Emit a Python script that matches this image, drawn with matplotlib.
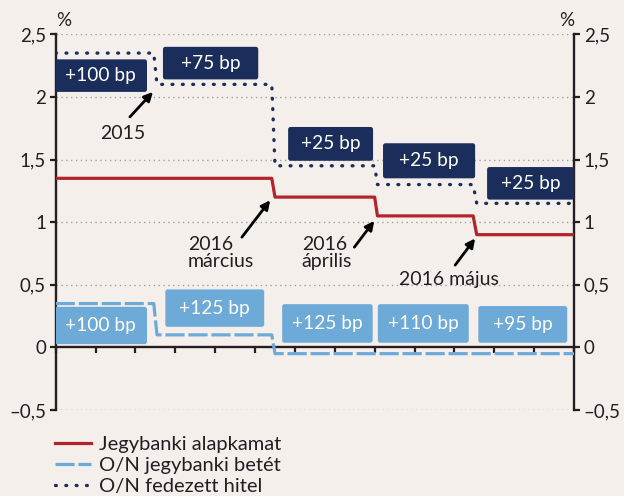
"""
Jegybanki kamatfolyosó: alapkamat, O/N betét és O/N fedezett hitel
"""

import matplotlib
matplotlib.use('Agg')
import matplotlib.pyplot as plt
from matplotlib.patches import FancyBboxPatch

plt.rcParams['font.family'] = ['Lato', 'DejaVu Sans']

# Data (x in tick units, 0..13)
t_base = [0, 5.42, 5.50, 8.00, 8.07, 10.47, 10.56, 13]
base_rate = [1.35, 1.35, 1.20, 1.20, 1.05, 1.05, 0.90, 0.90]

t_corridor = [0, 2.46, 2.54, 5.42, 5.50, 8.00, 8.07, 10.47, 10.56, 13]
on_deposit = [0.35, 0.35, 0.10, 0.10, -0.05, -0.05, -0.05, -0.05, -0.05, -0.05]
on_lending = [2.35, 2.35, 2.10, 2.10, 1.45, 1.45, 1.30, 1.30, 1.15, 1.15]

upper_spread = ['+100 bp', '+75 bp', '+25 bp', '+25 bp', '+25 bp']
lower_spread = ['+100 bp', '+125 bp', '+125 bp', '+110 bp', '+95 bp']

yticks = [-0.5, 0, 0.5, 1, 1.5, 2, 2.5]
ytick_labels = ['–0,5', '0', '0,5', '1', '1,5', '2', '2,5']
series_labels = ['Jegybanki alapkamat', 'O/N jegybanki betét', 'O/N fedezett hitel']

# Colours
BG = '#f5efec'
RED = '#b3242a'
LIGHT_BLUE = '#6eaad8'
NAVY = '#1b2e5b'
TEXT = '#231f20'

# Box layout: (x0, x1, y0, y1) in data coords
upper_boxes = [(-0.07, 2.29, 2.04, 2.30), (2.69, 5.08, 2.14, 2.40),
               (5.83, 7.96, 1.49, 1.76), (8.21, 10.52, 1.35, 1.63),
               (10.82, 13.0, 1.18, 1.44)]
lower_boxes = [(-0.07, 2.29, 0.026, 0.324), (2.75, 5.23, 0.164, 0.463),
               (5.68, 7.95, 0.037, 0.345), (8.08, 10.36, 0.037, 0.345),
               (10.60, 12.83, 0.037, 0.330)]


def add_box(ax, box, color, label):
    x0, x1, y0, y1 = box
    patch = FancyBboxPatch((x0, y0), x1 - x0, y1 - y0,
                           boxstyle='round,pad=0,rounding_size=0.06',
                           mutation_aspect=0.318,
                           facecolor=color, edgecolor='none', zorder=3)
    ax.add_patch(patch)
    ax.text((x0 + x1) / 2, (y0 + y1) / 2, label, ha='center', va='center',
            color='white', fontsize=13.8, zorder=4)


def add_arrow(ax, tail, head):
    ax.annotate('', xy=head, xytext=tail,
                arrowprops=dict(arrowstyle='-|>', color='black', lw=2,
                                mutation_scale=13, shrinkA=0, shrinkB=0),
                zorder=6)


fig = plt.figure(figsize=(6.24, 4.96), dpi=100, facecolor=BG)
ax = fig.add_axes([55.7 / 624, 1 - 410 / 496, (574 - 55.7) / 624, (410 - 34.3) / 496])
ax.set_facecolor(BG)
ax.set_xlim(0, 13)
ax.set_ylim(-0.5, 2.5)

# grid
for y in yticks:
    if y != 0:
        ax.axhline(y, color='#a0a0a0', lw=1, linestyle=(0, (1, 2.5)), zorder=1)

# spines
ax.spines['top'].set_visible(False)
ax.spines['bottom'].set_position(('data', 0))
for side in ['left', 'right', 'bottom']:
    ax.spines[side].set_linewidth(1.7)
    ax.spines[side].set_color(TEXT)
    ax.spines[side].set_zorder(2.5)

ax.set_xticks(range(0, 14))
ax.tick_params(axis='x', direction='out', length=4.5, width=1.6,
               color=TEXT, labelbottom=False)
ax.set_yticks(yticks)
ax.set_yticklabels(ytick_labels)
ax.tick_params(axis='y', direction='out', length=4, width=1.6, color=TEXT,
               left=True, right=True, labelleft=True, labelright=True,
               labelsize=13.5, labelcolor=TEXT, pad=3)

# series
ax.plot(t_base, base_rate, color=RED, lw=2.3, zorder=5, label=series_labels[0])
ax.plot(t_corridor, on_deposit, color=LIGHT_BLUE, lw=2.3, dashes=(6, 1.2),
        zorder=5, label=series_labels[1])
ax.plot(t_corridor, on_lending, color=NAVY, lw=2.4, dashes=(0.25, 2.85),
        dash_capstyle='round', zorder=5, label=series_labels[2])

# spread boxes
for box, lab in zip(upper_boxes, upper_spread):
    add_box(ax, box, NAVY, lab)
for box, lab in zip(lower_boxes, lower_spread):
    add_box(ax, box, LIGHT_BLUE, lab)

# annotations
ax.text(1.68, 1.71, '2015', ha='center', va='center', fontsize=14, color=TEXT)
add_arrow(ax, (1.86, 1.84), (2.44, 2.04))
ax.text(3.32, 0.75, '2016\nmárcius', ha='left', va='center', fontsize=14,
        color=TEXT, linespacing=1.0)
add_arrow(ax, (4.67, 0.88), (5.38, 1.175))
ax.text(6.17, 0.75, '2016\náprilis', ha='left', va='center', fontsize=14,
        color=TEXT, linespacing=1.0)
add_arrow(ax, (7.49, 0.80), (7.99, 1.01))
ax.text(8.62, 0.545, '2016 május', ha='left', va='center', fontsize=14,
        color=TEXT)
add_arrow(ax, (10.02, 0.657), (10.52, 0.87))

# unit labels
fig.text(63.5 / 624, 1 - 21 / 496, '%', ha='center', va='center', fontsize=13.5, color=TEXT)
fig.text(566.7 / 624, 1 - 20 / 496, '%', ha='center', va='center', fontsize=13.5, color=TEXT)

fig.legend(loc='upper left', bbox_to_anchor=(55 / 624, 1 - 436 / 496),
           frameon=False, fontsize=14.5, handlelength=1.8, handletextpad=0.4,
           labelspacing=0.2, borderaxespad=0, borderpad=0, labelcolor=TEXT)

fig.savefig('out.png', dpi=100, facecolor=BG)
